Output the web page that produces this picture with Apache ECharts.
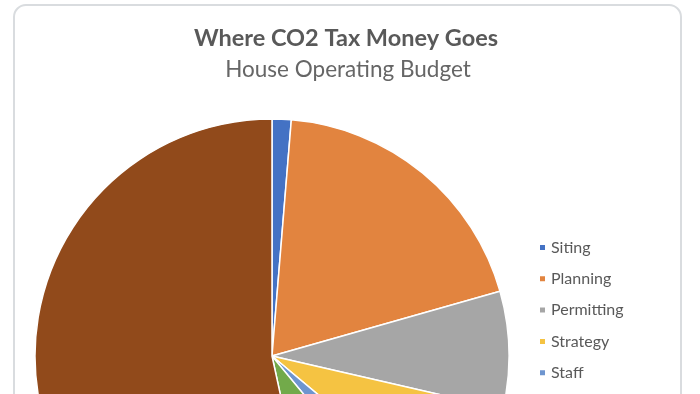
<!DOCTYPE html>
<html>
<head>
<meta charset="utf-8">
<script src="https://cdn.jsdelivr.net/npm/echarts@6/dist/echarts.min.js"></script>
<style>
html,body{margin:0;padding:0;background:#fff;overflow:hidden;}
#chart{width:700px;height:394px;}
</style>
</head>
<body>
<div id="chart"></div>
<script>
const titleText = 'Where CO2 Tax Money Goes';
const subtitleText = 'House Operating Budget';
const categories = ['Siting', 'Planning', 'Permitting', 'Strategy', 'Staff', 'Outreach', 'Other'];
const values = [1.3, 19.3, 8.0, 7.5, 2.9, 7.6, 53.4];
const colors = ['#4472C4', '#E2843F', '#A6A6A6', '#F5C342', '#6E95CF', '#72AA4A', '#914A1B'];

const chart = echarts.init(document.getElementById('chart'), null, {renderer: 'canvas'});
chart.setOption({
  animation: false,
  backgroundColor: '#ffffff',
  color: colors,
  graphic: [
    {type: 'rect', shape: {x: 14, y: 5, width: 667, height: 500, r: 12},
     style: {fill: '#ffffff', stroke: '#D9DCDF', lineWidth: 2}, z: -10},
    {type: 'text', x: 346, y: 38,
     style: {text: titleText, textAlign: 'center', textVerticalAlign: 'middle',
             font: 'bold 23.5px Lato', fill: '#595959'}},
    {type: 'text', x: 348, y: 70,
     style: {text: subtitleText, textAlign: 'center', textVerticalAlign: 'middle',
             font: '22.5px Lato', fill: '#666666'}}
  ],
  legend: {
    orient: 'vertical',
    left: 538,
    top: 239.5,
    height: 600,
    padding: 0,
    itemWidth: 7,
    itemHeight: 7,
    itemGap: 15.3,
    icon: 'rect',
    selectedMode: false,
    textStyle: {fontFamily: 'Lato', fontSize: 16, color: '#595959', lineHeight: 16},
    data: categories
  },
  series: [{
    type: 'pie',
    center: [272, 356],
    radius: [0, 237],
    startAngle: 90,
    clockwise: true,
    label: {show: false},
    labelLine: {show: false},
    emphasis: {disabled: true},
    itemStyle: {borderColor: '#ffffff', borderWidth: 1.5},
    data: categories.map((c, i) => ({name: c, value: values[i]}))
  }]
});
</script>
</body>
</html>
